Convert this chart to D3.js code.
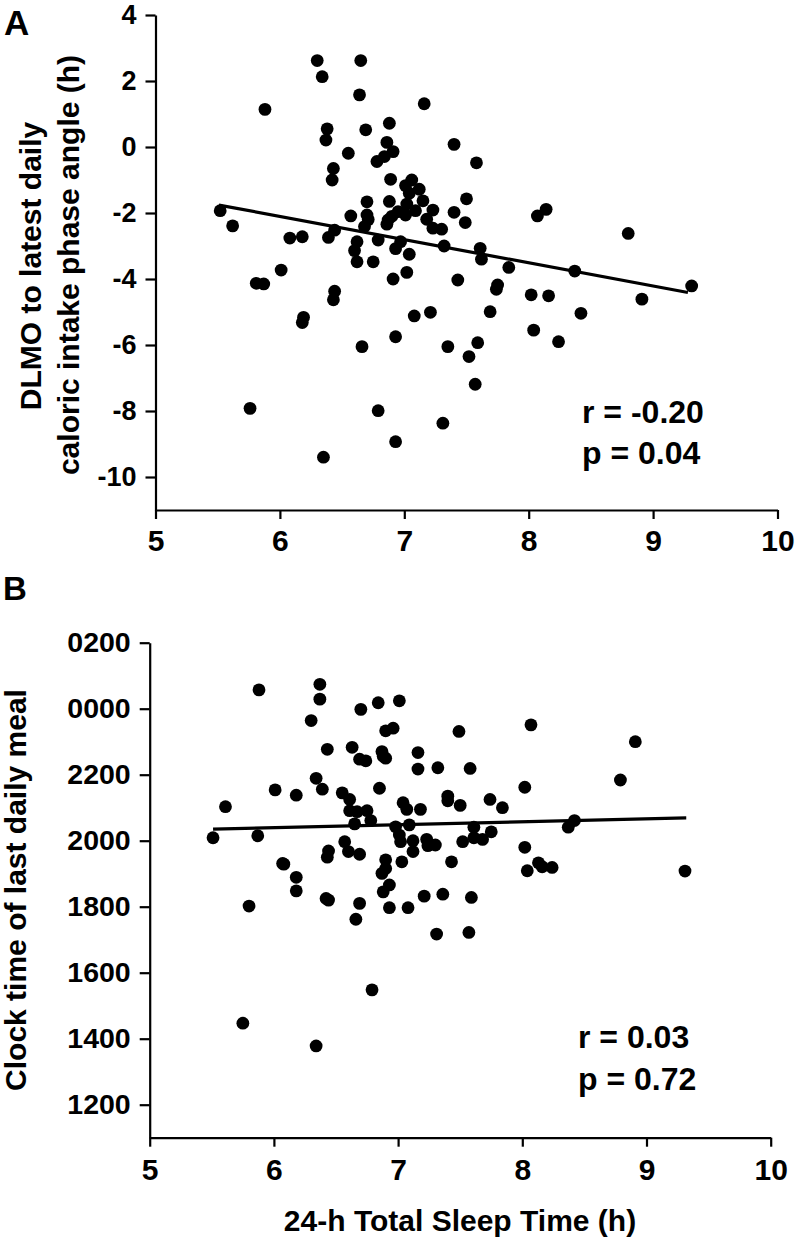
<!DOCTYPE html>
<html>
<head>
<meta charset="utf-8">
<script src="https://cdn.jsdelivr.net/npm/d3@7/dist/d3.min.js"></script>
<style>
  html, body { margin: 0; padding: 0; background: #fff; }
  svg { display: block; }
  text { font-family: "Liberation Sans", Arial, Helvetica, sans-serif; font-weight: bold; fill: #000; }
</style>
</head>
<body>
<svg id="chart" width="797" height="1242"></svg>
<script>
// ---------- DATA ----------
// Panel A: 24-h total sleep time (h) vs DLMO to latest daily caloric intake phase angle (h)
const sleepA = [5.52,5.62,5.88,6.08,6.18,6.01,5.81,5.87,6.30,6.34,6.65,6.64,6.38,6.37,6.69,6.88,6.86,6.55,6.78,6.84,
  6.91,6.43,6.42,6.89,6.70,6.88,6.57,6.70,6.71,6.87,6.68,6.44,6.39,6.62,6.79,6.60,6.62,6.75,6.93,6.91,
  6.44,6.43,6.19,6.18,6.66,6.93,5.76,6.79,6.93,6.35,7.16,7.40,7.58,7.06,7.01,7.12,7.04,7.15,7.02,7.09,
  7.01,6.95,6.86,7.23,7.18,7.23,7.30,7.40,7.50,7.49,8.07,8.14,8.80,6.97,7.04,7.02,7.32,7.61,7.62,7.84,
  8.37,9.31,7.43,7.75,7.74,8.02,8.16,8.91,7.08,7.21,7.69,8.42,7.35,7.59,7.52,8.04,8.24,7.57,7.31,6.90];
const phaseA = [-1.93,-2.39,1.14,-2.76,-2.72,-3.73,-4.13,-4.15,2.62,2.13,2.62,1.58,0.55,0.21,0.52,0.72,0.14,-0.19,-0.44,-0.29,
  -0.14,-0.65,-1.00,-0.98,-1.66,-1.65,-2.09,-2.06,-2.20,-2.21,-2.41,-2.52,-2.74,-2.87,-2.82,-3.14,-3.48,-3.48,-3.08,-4.00,
  -4.37,-4.63,-5.16,-5.32,-6.05,-5.75,-7.92,-7.99,-8.93,-9.40,1.31,0.08,-0.48,-1.00,-1.17,-1.28,-1.40,-1.63,-1.73,-1.93,
  -2.06,-1.96,-2.34,-1.91,-2.19,-2.46,-2.49,-1.98,-1.57,-2.29,-2.09,-1.89,-2.62,-2.87,-3.25,-3.80,-3.00,-3.07,-3.40,-3.65,
  -3.76,-4.21,-4.03,-4.18,-4.31,-4.48,-4.51,-4.61,-5.12,-5.01,-4.99,-5.04,-6.05,-5.93,-6.35,-5.55,-5.90,-7.19,-8.37,-2.10];
const fitA_x = [5.51, 9.28];
const fitA_y = [-1.76, -4.41];
const ticksAx = [5, 6, 7, 8, 9, 10];
const ticksAy = [-10, -8, -6, -4, -2, 0, 2, 4];
const statsA = ["r = -0.20", "p = 0.04"];

// Panel B: 24-h total sleep time (h) vs clock time of last daily meal (decimal hours, >24 = after midnight)
const sleepB = [5.51,5.61,5.87,5.88,6.01,6.18,6.07,6.30,6.37,6.37,6.43,6.34,6.39,6.55,6.61,6.61,6.70,6.63,6.69,6.74,
  6.84,7.01,6.90,6.96,6.87,6.90,6.85,6.67,6.75,6.65,6.78,6.57,6.60,6.69,6.44,6.43,6.98,7.49,8.07,8.91,
  7.16,7.16,7.32,7.58,8.02,8.79,7.04,7.07,7.18,7.40,7.40,7.50,7.74,7.84,7.09,7.01,7.02,7.12,7.12,7.23,
  7.24,7.30,7.52,7.61,7.61,7.68,7.75,8.37,8.42,8.02,6.90,7.03,7.43,8.04,8.13,8.16,8.24,9.31,6.08,6.18,
  6.18,6.42,6.44,5.80,6.69,6.66,6.87,6.90,6.88,6.93,6.93,6.79,5.75,6.34,7.08,7.21,7.36,7.59,7.31,7.57,6.88];
const mealB = [20.09,21.03,20.15,24.57,21.54,21.38,19.31,23.64,24.74,24.29,22.77,21.89,21.56,21.45,21.25,20.91,23.98,22.83,22.47,22.42,
  24.18,24.24,23.33,23.41,22.70,22.50,21.59,20.88,20.91,20.51,20.61,19.97,19.67,19.59,19.69,19.50,20.42,23.31,23.51,23.00,
  22.67,22.17,22.21,22.19,21.62,21.84,21.15,20.95,20.95,21.35,21.21,21.07,21.25,21.00,20.48,20.17,19.97,20.00,19.67,20.04,
  19.85,19.87,19.97,20.41,20.09,20.04,20.27,20.41,20.61,19.80,19.42,19.36,19.36,19.09,19.33,19.21,19.19,19.08,19.29,18.89,
  18.48,18.25,18.20,18.02,18.10,17.62,19.01,19.16,18.45,18.66,17.97,15.48,14.47,13.78,17.97,18.32,18.38,18.28,17.17,17.22,22.56];
const fitB_x = [5.51, 9.32];
const fitB_y = [20.35, 20.69];
const ticksBx = [5, 6, 7, 8, 9, 10];
const ticksBy = [12, 14, 16, 18, 20, 22, 24, 26];
const tickLabelsBy = ["1200", "1400", "1600", "1800", "2000", "2200", "0000", "0200"];
const statsB = ["r = 0.03", "p = 0.72"];

const titleA = ["DLMO to latest daily", "caloric intake phase angle (h)"];
const titleB = "Clock time of last daily meal";
const titleX = "24-h Total Sleep Time (h)";

// ---------- DRAW ----------
const svg = d3.select("#chart");

function styleAxis(g, fs) {
  g.attr("font-family", null).attr("font-size", null);
  g.select(".domain").attr("stroke", "#000").attr("stroke-width", 2.2);
  g.selectAll(".tick line").attr("stroke", "#000").attr("stroke-width", 2.2);
  g.selectAll(".tick text").style("font-size", fs + "px").style("font-weight", "bold").attr("fill", "#000");
}

function panel(opt) {
  const x = d3.scaleLinear().domain([5, 10]).range([opt.left, opt.right]);
  const y = d3.scaleLinear().domain(opt.yDomain).range([opt.bottom, opt.top]);

  const ya = d3.axisLeft(y).tickValues(opt.yTicks).tickSize(10).tickSizeOuter(0).tickPadding(9)
    .tickFormat(opt.yFormat);
  const gy = svg.append("g").attr("transform", `translate(${opt.left},0)`).call(ya);
  styleAxis(gy, opt.yFs);

  const xa = d3.axisBottom(x).tickValues(opt.xTicks).tickSize(9).tickSizeOuter(0).tickPadding(opt.xPad)
    .tickFormat(d => String(d));
  const gx = svg.append("g").attr("transform", `translate(0,${opt.bottom})`).call(xa);
  styleAxis(gx, opt.xFs);

  // points
  svg.append("g").selectAll("circle").data(opt.xs.map((d, i) => [d, opt.ys[i]]))
    .join("circle")
    .attr("cx", d => x(d[0])).attr("cy", d => y(d[1])).attr("r", 6.4).attr("fill", "#000");

  // regression line
  svg.append("path")
    .datum(opt.fitX.map((d, i) => [d, opt.fitY[i]]))
    .attr("d", d3.line().x(d => x(d[0])).y(d => y(d[1])))
    .attr("stroke", "#000").attr("stroke-width", 3.2).attr("fill", "none");

  // stats
  opt.stats.forEach((s, i) => {
    svg.append("text").attr("x", opt.statX).attr("y", opt.statY + i * opt.statDy)
      .style("font-size", "32px").text(s);
  });
  return { x, y };
}

panel({
  left: 155.5, right: 777.5, top: 15, bottom: 510,
  yDomain: [-11, 4], yTicks: ticksAy, yFormat: d => String(d), yFs: 27,
  xTicks: ticksAx, xFs: 30, xPad: 11,
  xs: sleepA, ys: phaseA, fitX: fitA_x, fitY: fitA_y,
  stats: statsA, statX: 582, statY: 423, statDy: 41
});

panel({
  left: 149.7, right: 770.7, top: 642.7, bottom: 1137.7,
  yDomain: [11, 26], yTicks: ticksBy, yFormat: (d, i) => tickLabelsBy[i], yFs: 28.5,
  xTicks: ticksBx, xFs: 30, xPad: 12,
  xs: sleepB, ys: mealB, fitX: fitB_x, fitY: fitB_y,
  stats: statsB, statX: 578, statY: 1048, statDy: 42
});

// panel letters
svg.append("text").attr("x", 4).attr("y", 35).style("font-size", "35px").text("A");
svg.append("text").attr("x", 3).attr("y", 600).style("font-size", "33px").text("B");

// y titles
svg.append("text").attr("transform", "translate(41,266) rotate(-90)")
  .attr("text-anchor", "middle").style("font-size", "30px").text(titleA[0]);
svg.append("text").attr("transform", "translate(79,265) rotate(-90)")
  .attr("text-anchor", "middle").style("font-size", "30px").text(titleA[1]);

svg.append("text").attr("transform", "translate(26,890) rotate(-90)")
  .attr("text-anchor", "middle").style("font-size", "30px").text(titleB);

// x title
svg.append("text").attr("x", 460).attr("y", 1231).attr("text-anchor", "middle")
  .style("font-size", "30px").text(titleX);
</script>
</body>
</html>
